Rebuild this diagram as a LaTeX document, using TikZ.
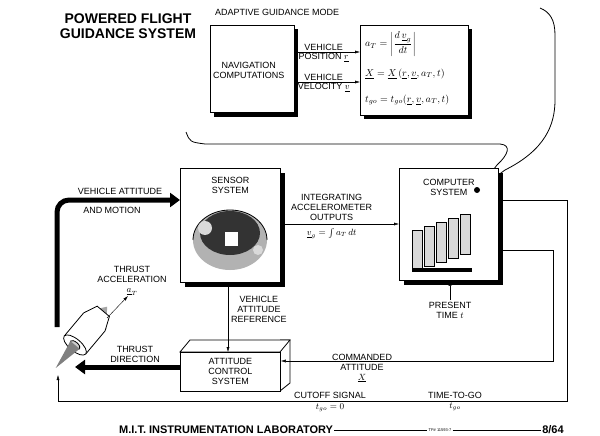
\documentclass[tikz,border=0pt]{standalone}
\usepackage{fontspec}
\setmainfont{Liberation Sans}
\usepackage{amsmath}
\usetikzlibrary{arrows.meta,positioning}

\begin{document}
\begin{tikzpicture}[x=1pt,y=-1pt,font=\fontsize{9}{10}\selectfont,
    box/.style = {draw, thick, fill=white, align=center, inner sep=0pt},
    lbl/.style = {align=center, inner sep=1pt},
    eqn/.style = {lbl, anchor=west, font=\fontsize{10}{11}\selectfont},
    arr/.style = {-{Latex[length=5pt,width=3pt]}},
    fat/.style = {line width=5pt, -{Triangle[length=10pt,width=14pt]}}]
        \useasboundingbox (0,0) rectangle (600,436);
        
        % titles
        \node[lbl, font=\fontsize{14}{15}\selectfont\bfseries] (title) at (128,26) {POWERED FLIGHT\\GUIDANCE SYSTEM};
        \node[lbl, anchor=west] (mode) at (214,12) {ADAPTIVE GUIDANCE MODE};
        
        % upper boxes
        \fill (214,29) rectangle (298,117);
        \node[box, minimum width=84pt, minimum height=87pt, anchor=north west] (nav) at (210,25) {};
        \node[lbl, anchor=west] (navtxt) at (212,70) {NAVIGATION\\COMPUTATIONS};
        \fill (364,29) rectangle (472,119);
        \node[box, minimum width=108pt, minimum height=90pt, anchor=north west] (eqs) at (360,25) {};
        \node[eqn] (eq1) at (364,44) {$a_T = \left|\dfrac{d\,\underline{v}_g}{dt}\right|$};
        \node[eqn] (eq2) at (364,74) {$\underline{X} = \underline{X}\,(\underline{r},\underline{v},a_T,t)$};
        \node[eqn] (eq3) at (364,100) {$t_{go} = t_{go}(\underline{r},\underline{v},a_T,t)$};
        \coordinate (p1) at (294,52);
        \coordinate (p2) at (294,82);
        \draw[arr] (p1) -- (p1 -| eqs.west) node[pos=0.45, above, lbl]{VEHICLE} node[pos=0.45, below, lbl]{POSITION $\underline{r}$};
        \draw[arr] (p2) -- (p2 -| eqs.west) node[pos=0.45, above, lbl]{VEHICLE} node[pos=0.45, below, lbl]{VELOCITY $\underline{v}$};
        
        % callout bubble
        \draw[thick] (186,132) .. controls (190,142) .. (205,144) -- (500,144)
            .. controls (512,145) and (508,155) .. (497,165) -- (478,190);
        \draw[thick] (478,190) -- (505,170) .. controls (545,150) and (555,125) .. (555,100)
            -- (555,35) .. controls (555,20) and (550,12) .. (540,8);
        
        % main boxes
        \fill (185,173) rectangle (285,287);
        \node[box, minimum width=100pt, minimum height=114pt, anchor=north west] (sensor) at (180,168) {};
        \node[lbl, below=8pt of sensor.north] (sensortxt) {SENSOR\\SYSTEM};
        \fill (404,173) rectangle (503,285);
        \node[box, minimum width=99pt, minimum height=112pt, anchor=north west] (comp) at (399,168) {};
        \node[lbl, below=10pt of comp.north] (comptxt) {COMPUTER\\SYSTEM};
        \fill (477,190) circle (3pt);
        
        % gimbal sketch in sensor
        \fill[gray!60] (230,240) ellipse (37 and 30);
        \draw[thick] (193,240) arc (180:360:37 and 30);
        \fill[black!80] (230,233) ellipse (30 and 22);
        \fill[white] (225,232) rectangle (238,246);
        \fill[gray!30] (205,228) circle (7);
        \fill[gray!30] (258,250) circle (5);
        
        % computer drawers
        \foreach \i in {0,...,4}
            \draw[fill=gray!30] (412+12*\i,230-4*\i) rectangle ++(10,40);
        \fill[black] (412,268) rectangle (472,272);
        
        % ACS 3-D box
        \draw[thick, fill=white] (280,340) -- (290,340) -- (290,383) -- (280,391);
        \draw[thick, fill=white] (180,352) -- (190,340) -- (290,340) -- (280,352) -- cycle;
        \node[box, minimum width=100pt, minimum height=39pt, anchor=north west] (acs) at (180,352) {ATTITUDE\\CONTROL\\SYSTEM};
        
        % connectors
        \draw[arr] (sensor.east |- 0,224) -- (comp.west |- 0,224) coordinate[pos=0.43] (io);
        \node[lbl, above=2pt of io] (iotxt) {INTEGRATING\\ACCELEROMETER\\OUTPUTS};
        \node[lbl, below=3pt of io] (vg) {$\underline{v}_g = \int a_T\,dt$};
        \draw[arr] (sensor.south -| 228,0) -- (acs.north -| 228,0);
        \node[lbl, anchor=north west] (varef) at (230,295) {VEHICLE\\ATTITUDE\\REFERENCE};
        \coordinate (pt) at (450,300);
        \draw[arr] (pt) -- (pt |- comp.south);
        \node[lbl, below=1pt of pt] (ptxt) {PRESENT\\TIME $t$};
        \coordinate (c1) at (567,200);
        \coordinate (c2) at (553,250);
        \coordinate (nozzle) at (58,375);
        \draw[arr] (comp.east |- c2) -- (c2) -- (553,361) -- (acs.east |- 0,361);
        \node[lbl] (cmd) at (362,368) {COMMANDED\\ATTITUDE\\$\underline{X}$};
        \draw[arr] (comp.east |- c1) -- (c1) -- (567,401) -- (58,401) -- (nozzle);
        \node[lbl, above=1pt] (cut) at (330,401) {CUTOFF SIGNAL};
        \node[lbl, below=1pt] (cut0) at (330,401) {$t_{go}=0$};
        \node[lbl, above=1pt] (tgo) at (455,401) {TIME-TO-GO};
        \node[lbl, below=1pt] (tgo0) at (455,401) {$t_{go}$};
        
        % engine
        \begin{scope}[shift={(75,345)}, rotate=-40]
            \fill[gray!70] (-14,-32) -- (0,-50) -- (14,-32) -- cycle;
            \draw[thick, fill=white] (-14,0) -- (-14,-30) -- (-8,-44) -- (8,-44) -- (14,-30) -- (14,0);
            \draw[thick, fill=white] (0,0) ellipse (14 and 6);
            \draw[thick, fill=gray!40] (0,0) ellipse (6 and 3);
            \fill[gray] (-6,0) -- (0,30) -- (6,0) -- cycle;
        \end{scope}
        \coordinate (tip) at (107,318);
        \draw[arr] (tip) -- (128,296);
        \node[lbl] (tatxt) at (132,281) {THRUST\\ACCELERATION\\$\underline{a}_T$};
        
        % fat arrows
        \draw[fat, rounded corners=12pt] (57,327) -- (57,200) -- (sensor.west |- 0,200);
        \node[lbl, anchor=south] (va) at (120,196) {VEHICLE ATTITUDE};
        \node[lbl, anchor=north] (am) at (112,206) {AND MOTION};
        \draw[fat] (acs.west |- 0,367) -- (75,367);
        \node[lbl] (tdir) at (135,354) {THRUST\\DIRECTION};
        
        % footer
        \node[lbl, anchor=west, font=\fontsize{11}{12}\selectfont\bfseries] (mit) at (118,430) {M.I.T. INSTRUMENTATION LABORATORY};
        \node[lbl, font=\fontsize{4}{5}\selectfont] (tp) at (440,430) {TP\# 11593-7};
        \node[lbl, font=\fontsize{11}{12}\selectfont\bfseries] (page) at (553,430) {8/64};
        \draw[thick] (mit.east) -- (tp.west);
        \draw[thick] (tp.east) -- (page.west);
    \end{tikzpicture}
\end{document}
